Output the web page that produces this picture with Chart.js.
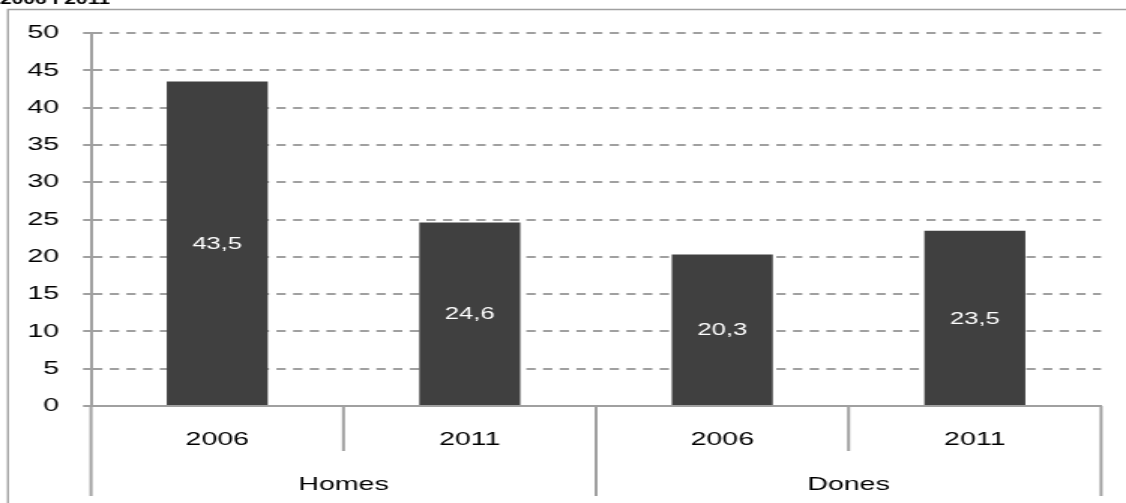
<!DOCTYPE html>
<html>
<head>
<meta charset="utf-8">
<script src="https://cdn.jsdelivr.net/npm/chart.js@4/dist/chart.umd.min.js"></script>
<style>
    html, body { margin: 0; padding: 0; background: #fff; overflow: hidden; }
    /* the reference is stretched horizontally, so draw narrow and widen it */
    #wrap { width: 750px; height: 503px; transform: scaleX(1.50133); transform-origin: 0 0; }
</style>
</head>
<body>
<div id="wrap"><canvas id="chart"></canvas></div>
<script>
const years = ['2006', '2011', '2006', '2011'];
const groups = ['Homes', 'Homes', 'Dones', 'Dones'];
const values = [43.5, 24.6, 20.3, 23.5];
const yTicks = [0, 5, 10, 15, 20, 25, 30, 35, 40, 45, 50];
const titleText = '2006 i 2011';

const FONT = '"Liberation Sans", Arial, sans-serif';
const LINE = '#a0a0a0';

const extras = {
    id: 'extras',
    beforeDraw(chart) {
        const ctx = chart.ctx;
        ctx.save();
        // outer frame (left and top edges only are visible)
        ctx.strokeStyle = LINE;
        ctx.lineWidth = 1.4;
        ctx.beginPath();
        ctx.moveTo(5.3, 503);
        ctx.lineTo(5.3, 9.5);
        ctx.lineTo(750, 9.5);
        ctx.stroke();
        // title cut off at the top
        ctx.fillStyle = '#000';
        ctx.font = 'bold 14px ' + FONT;
        ctx.textBaseline = 'alphabetic';
        ctx.fillText(titleText, 0, 3.5);
        ctx.restore();
    },
    afterDraw(chart) {
        const ctx = chart.ctx;
        const x = chart.scales.x;
        const area = chart.chartArea;
        ctx.save();

        // separators under the axis
        ctx.strokeStyle = LINE;
        ctx.lineWidth = 2;
        for (let i = 0; i <= years.length; i++) {
            const px = x.getPixelForValue(i - 0.5);
            const long = i === 0 || i === years.length || groups[i] !== groups[i - 1];
            ctx.beginPath();
            ctx.moveTo(px, area.bottom);
            ctx.lineTo(px, long ? 496 : 451);
            ctx.stroke();
        }

        // group labels
        ctx.fillStyle = '#000';
        ctx.font = '19px ' + FONT;
        ctx.textAlign = 'center';
        ctx.textBaseline = 'middle';
        let start = 0;
        for (let i = 1; i <= groups.length; i++) {
            if (i === groups.length || groups[i] !== groups[start]) {
                const a = x.getPixelForValue(start - 0.5);
                const b = x.getPixelForValue(i - 0.5);
                ctx.fillText(groups[start], (a + b) / 2, 485);
                start = i;
            }
        }

        // value labels inside the bars
        ctx.fillStyle = '#fff';
        ctx.font = '17px ' + FONT;
        const meta = chart.getDatasetMeta(0);
        meta.data.forEach((bar, i) => {
            const label = values[i].toFixed(1).replace('.', ',');
            ctx.fillText(label, bar.x, (bar.y + bar.base) / 2 + 1);
        });
        ctx.restore();
    }
};

new Chart(document.getElementById('chart'), {
    type: 'bar',
    data: {
        labels: years,
        datasets: [{
            data: values,
            backgroundColor: '#404040',
            categoryPercentage: 1,
            barPercentage: 0.4
        }]
    },
    options: {
        responsive: true,
        maintainAspectRatio: false,
        animation: false,
        devicePixelRatio: 1,
        layout: { padding: { top: 33, left: 5.6, right: 16.6, bottom: 0 } },
        plugins: { legend: { display: false }, tooltip: { enabled: false } },
        scales: {
            x: {
                grid: { display: false, drawTicks: false },
                border: { display: true, color: LINE, width: 2 },
                ticks: { color: '#000', font: { family: FONT, size: 19 }, padding: 22, maxRotation: 0 },
                afterFit: (s) => { s.height = 97; }
            },
            y: {
                min: 0,
                max: 50,
                afterBuildTicks: (s) => { s.ticks = yTicks.map(v => ({ value: v })); },
                grid: {
                    color: LINE,
                    lineWidth: 2,
                    tickLength: 5.3,
                    tickColor: LINE,
                    tickWidth: 2,
                    tickBorderDash: []
                },
                border: { display: true, color: LINE, width: 2, dash: [6.2, 4.9] },
                ticks: { color: '#000', font: { family: FONT, size: 19 }, padding: 16 },
                afterFit: (s) => { s.width = 55; }
            }
        }
    },
    plugins: [extras]
});
</script>
</body>
</html>
